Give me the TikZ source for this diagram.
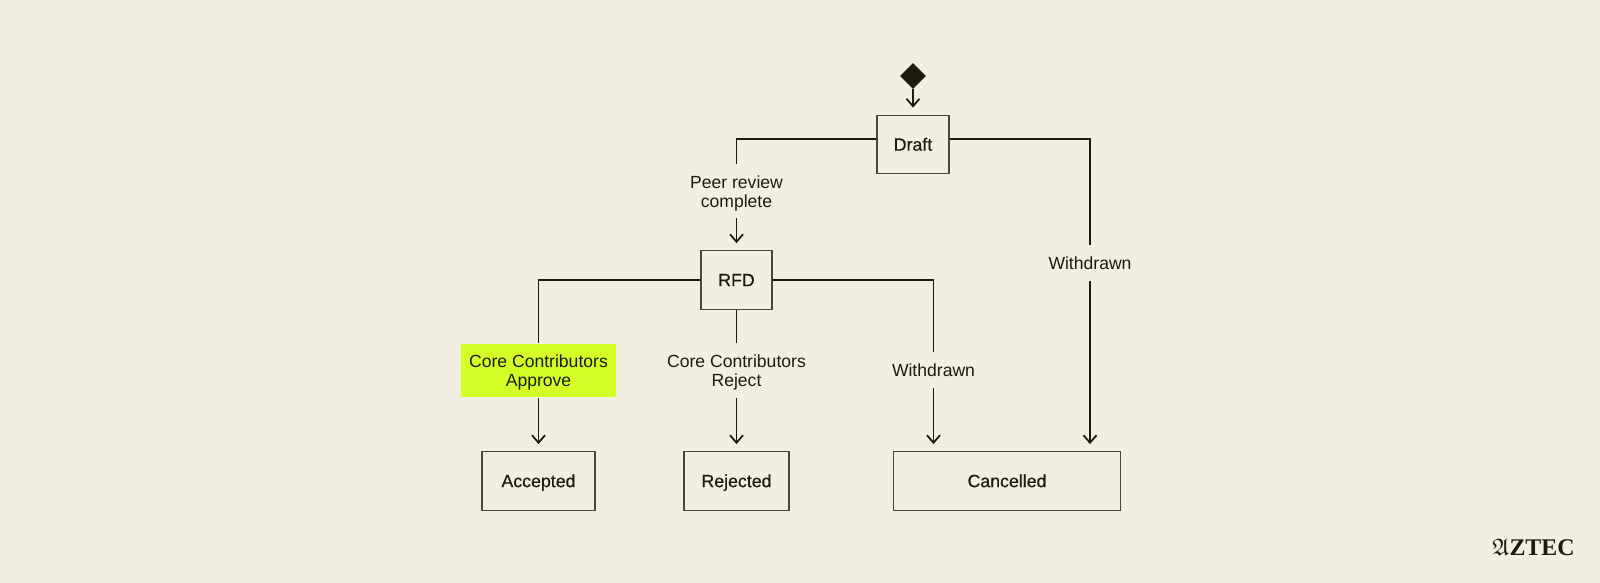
\documentclass[tikz,border=0pt]{standalone}
\usepackage{fontspec}
\usepackage{amssymb}
\usepackage{xcolor}
\usetikzlibrary{positioning,arrows.meta,shapes.geometric}
\setmainfont{Liberation Sans}
\newfontfamily\medfont[FakeBold=0.5]{Liberation Sans}
\newfontfamily\logofont{Liberation Serif}
\definecolor{rfbg}{HTML}{F2EEE1}
\definecolor{rfink}{HTML}{1E1A0D}
\definecolor{rfedge}{HTML}{4A4638}
\definecolor{rflime}{HTML}{D4FF26}
\begin{document}
\begin{tikzpicture}[font=\fontsize{10}{10.9}\selectfont,text=rfink,
  state/.style={rectangle,draw=rfedge,line width=0.75pt,align=center,inner sep=0pt,minimum height=1.17cm,text height=7pt,text depth=0pt,font=\fontsize{10.1}{11}\medfont},
  cond/.style={rectangle,align=center,inner sep=0pt,minimum height=1.07cm,text height=18.6pt,text depth=0pt},
  condone/.style={rectangle,align=center,inner sep=0pt,minimum height=0.72cm},
  ln/.style={line width=1pt,rfink},
  ar/.style={-{Straight Barb[length=1.5mm,width=2.6mm]},line width=1pt,rfink,shorten >=1.4mm}]
\useasboundingbox[fill=rfbg] (0,0) rectangle (32,-11.66);
% start
\node[diamond,fill=rfink,inner sep=0pt,minimum size=0.52cm] (start) at (18.26,-1.52) {};
% states
\node[state,minimum width=1.44cm] (draft) at (18.26,-2.89) {Draft};
\node[state,minimum width=1.42cm] (rfd) at (14.73,-5.6) {RFD};
\node[state,minimum width=2.26cm] (acc) at (10.77,-9.62) {Accepted};
\node[state,minimum width=2.1cm] (rej) at (14.73,-9.62) {Rejected};
\node[state,minimum width=4.55cm] (can) at (20.14,-9.62) {Cancelled};
% conditions
\node[cond] (peer) at (14.73,-3.82) {Peer review\\complete};
\node[cond,fill=rflime,minimum width=3.1cm] (appr) at (10.77,-7.41) {Core Contributors\\Approve};
\node[cond] (rjct) at (14.73,-7.41) {Core Contributors\\Reject};
\node[condone] (wdl) at (18.67,-7.4) {Withdrawn};
\node[condone] (wdr) at (21.8,-5.26) {Withdrawn};
% connectors
\draw[ar] (start)--(draft);
\draw[ln] ([yshift=0.116cm]draft.west) -| (peer.north);
\draw[ar] (peer)--(rfd);
\draw[ln] ([yshift=0.116cm]draft.east) -| (wdr.north);
\draw[ar] (wdr) -- (wdr |- can.north);
\draw[ln] (rfd.west) -| (appr.north);
\draw[ar] (appr)--(acc);
\draw[ln] (rfd)--(rjct);
\draw[ar] (rjct)--(rej);
\draw[ln] (rfd.east) -| (wdl.north);
\draw[ar] (wdl) -- (wdl |- can.north);
% logo
\node[inner sep=0pt,font=\fontsize{13.6}{13.6}\logofont\bfseries] (logo) at (30.67,-10.95) {$\mathfrak{A}$ZTEC};
\end{tikzpicture}
\end{document}
